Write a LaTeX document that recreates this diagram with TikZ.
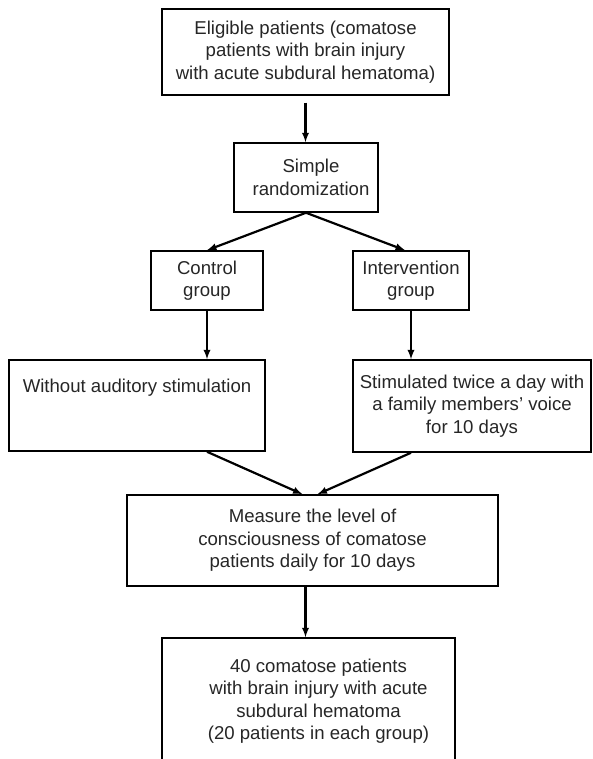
\documentclass[tikz,border=0pt]{standalone}
\usepackage{fontspec}
\setmainfont{Liberation Sans}
\begin{document}
\begin{tikzpicture}[x=1pt,y=-1pt,
    box/.style={draw,line width=1.5pt,inner sep=0pt,align=center,text=black!85,
        font=\fontsize{18.6}{22.5}\selectfont},
    arr/.style={-latex,line width=2.2pt}]
    \clip (0,0) rectangle (592,759);
    % boxes
    \node[box,minimum width=287pt,minimum height=86pt] (elig) at (305.5,52)
        {Eligible patients (comatose\\patients with brain injury\\with acute subdural hematoma)};
    \node[box,minimum width=144pt,minimum height=69pt] (rand) at (306,177.5)
        {\hspace*{10pt}Simple\\\hspace*{10pt}randomization};
    \node[box,minimum width=112pt,minimum height=59pt] (ctrl) at (207,280.5)
        {Control\\group};
    \node[box,minimum width=116pt,minimum height=59pt] (intv) at (411,280.5)
        {Intervention\\group};
    \node[box,minimum width=256pt,text height=32pt,text depth=59pt] (wo) at (137,405.5)
        {Without auditory stimulation};
    \node[box,minimum width=238pt,minimum height=92pt] (stim) at (472,406)
        {Stimulated twice a day with\\a family members’ voice\\for 10 days};
    \node[box,minimum width=371pt,minimum height=91pt] (meas) at (312.5,540.5)
        {Measure the level of\\consciousness of comatose\\patients daily for 10 days};
    \node[box,minimum width=293pt,minimum height=126pt] (final) at (308.5,701)
        {\hspace*{20pt}40 comatose patients\\\hspace*{20pt}with brain injury with acute\\\hspace*{20pt}subdural hematoma\\\hspace*{20pt}(20 patients in each group)};
    % arrows
    \draw[arr,shorten <=7pt] (elig.south) -- (elig.south |- rand.north);
    \draw[arr] (rand.south) -- (ctrl.north);
    \draw[arr] (rand.south) -- ([xshift=-6pt]intv.north);
    \draw[arr] (ctrl) -- (ctrl |- wo.north);
    \draw[arr] (intv) -- (intv |- stim.north);
    \draw[arr] (wo.south -| ctrl) -- ([xshift=-10pt]meas.north);
    \draw[arr] (stim.south -| intv) -- ([xshift=5pt]meas.north);
    \draw[arr] (meas.south -| elig) -- (final.north -| elig);
\end{tikzpicture}
\end{document}
